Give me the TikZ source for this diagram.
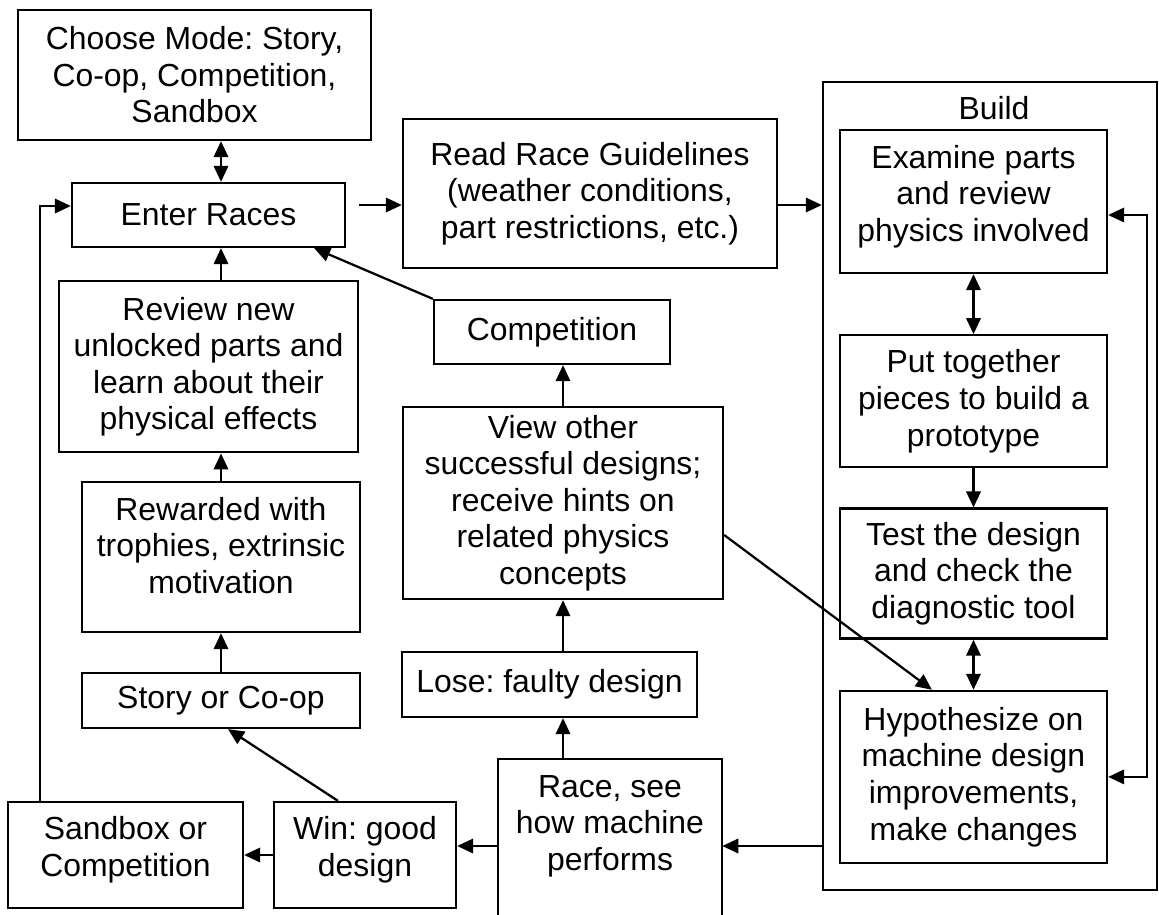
\documentclass[tikz,border=0pt]{standalone}
\usepackage{fontspec}
\setmainfont{Liberation Sans}
\frenchspacing
\usetikzlibrary{arrows.meta, positioning}

\begin{document}
\begin{tikzpicture}[
  x=0.025cm, y=-0.025cm,
  node distance=0.8cm,
  every node/.style={font=\fontsize{22.7}{26}\selectfont},
  box/.style={rectangle, draw=black, line width=1.6pt, align=center, inner sep=0pt},
  arr/.style={draw, line width=1.6pt, -{Triangle[length=4mm, width=3.6mm]}},
  dbl/.style={draw, line width=1.6pt,
              {Triangle[length=4mm, width=3.6mm]}-{Triangle[length=4mm, width=3.6mm]}},
]
  \useasboundingbox (0,0) rectangle (1159,915);

  % left column
  \node[box, minimum width=8.825cm, minimum height=3.25cm] (choose) at (194.5,75)
       {Choose Mode: Story,\\Co-op, Competition,\\Sandbox};
  \node[box, minimum width=6.825cm, minimum height=1.6cm] (enter) at (208.5,215) {Enter Races};
  \node[box, minimum width=7.475cm, minimum height=4.275cm, below=0.8cm of enter] (review)
       {Review new\\unlocked parts and\\learn about their\\physical effects};
  \node[box, minimum width=6.95cm, minimum height=3.75cm] (reward) at (221,557)
       {Rewarded with\\trophies, extrinsic\\motivation\\[-9pt]\mbox{}};
  \node[box, minimum width=6.95cm, minimum height=1.375cm] (story) at (221,700.5) {Story or Co-op};
  \node[box, minimum width=5.875cm, minimum height=2.65cm] (sandbox) at (125.5,855)
       {Sandbox or\\Competition\\[-14pt]\mbox{}};
  \node[box, minimum width=4.55cm, minimum height=2.65cm] (win) at (365,855)
       {Win: good\\design\\[-14pt]\mbox{}};

  % middle column
  \node[box, minimum width=9.35cm, minimum height=3.725cm] (read) at (590,193.5)
       {Read Race Guidelines\\(weather conditions,\\part restrictions, etc.)};
  \node[box, minimum width=5.9cm, minimum height=1.6cm] (compet) at (552,332) {Competition};
  \node[box, minimum width=8cm, minimum height=4.8cm] (view) at (563,503)
       {View other\\successful designs;\\receive hints on\\related physics\\concepts};
  \node[box, minimum width=7.375cm, minimum height=1.625cm] (lose) at (549.5,684.5) {Lose: faulty design};
  \node[minimum width=5.6cm, minimum height=3.15cm, inner sep=0pt, align=center] (race) at (610,826)
       {Race, see\\how machine\\performs};
  \draw[line width=1.6pt] ([yshift=-2cm]race.south west) -- ([yshift=0.1cm]race.north west)
       -- ([yshift=0.1cm]race.north east) -- ([yshift=-2cm]race.south east);

  % build group
  \node[box, minimum width=8.35cm, minimum height=20.2cm] (build) at (990,486) {};
  \node (buildtxt) at (994,108) {Build};
  \node[box, minimum width=6.675cm, minimum height=3.575cm] (examine) at (973.5,201.5)
       {Examine parts\\and review\\physics involved\\[-14pt]\mbox{}};
  \node[box, minimum width=6.675cm, minimum height=3.3cm, below=1.5cm of examine] (put)
       {Put together\\pieces to build a\\prototype};
  \node[box, minimum width=6.675cm, minimum height=3.25cm, below=0.975cm of put] (test)
       {Test the design\\and check the\\diagnostic tool};
  \node[box, minimum width=6.675cm, minimum height=4.3cm, below=1.25cm of test] (hyp)
       {Hypothesize on\\machine design\\improvements,\\make changes};

  \coordinate (spine) at (221,0);
  \coordinate (toprow) at (359,205);
  \coordinate (lloop) at (40,206);
  \coordinate (rloop) at (1147,215);
  \coordinate (lowrow) at (0,846);

  % main flow
  \draw[dbl] (choose.south -| spine) -- (enter.north -| spine);
  \draw[arr] (toprow) -- (read.west |- toprow);
  \draw[arr] (read.east |- toprow) -- (build.west |- toprow);
  \draw[arr] (review.north -| spine) -- (enter.south -| spine);
  \draw[arr] (reward.north) -- (review.south -| reward);
  \draw[arr] (story.north) -- (reward.south);
  \draw[arr] ([xshift=-0.675cm]win.north) -- ([xshift=0.175cm]story.south);
  \draw[arr] (compet.north west) -- ([xshift=-0.8cm]enter.south east);
  \draw[arr] (view.north) -- (compet.south -| view);
  \draw[arr] (lose.north -| view) -- (view.south);
  \draw[arr] ([yshift=0.1cm]race.north -| view) -- (lose.south -| view);
  \draw[arr] (race.west |- lowrow) -- (win.east |- lowrow);
  \draw[arr] (win.west) -- (sandbox.east);
  \draw[arr] (sandbox.north -| lloop) -- (lloop) -- (enter.west |- lloop);

  % build loop
  \draw[arr] (build.west |- lowrow) -- (race.east |- lowrow);
  \draw[arr] ([yshift=-0.8cm]view.east) -- ([xshift=-1.04cm]hyp.north);
  \draw[dbl] (examine.south) -- (put.north);
  \draw[arr] (put.south) -- (test.north);
  \draw[dbl] (test.south) -- (hyp.north);
  \draw[dbl] (examine.east |- rloop) -- (rloop) |- (hyp.east);
\end{tikzpicture}
\end{document}
